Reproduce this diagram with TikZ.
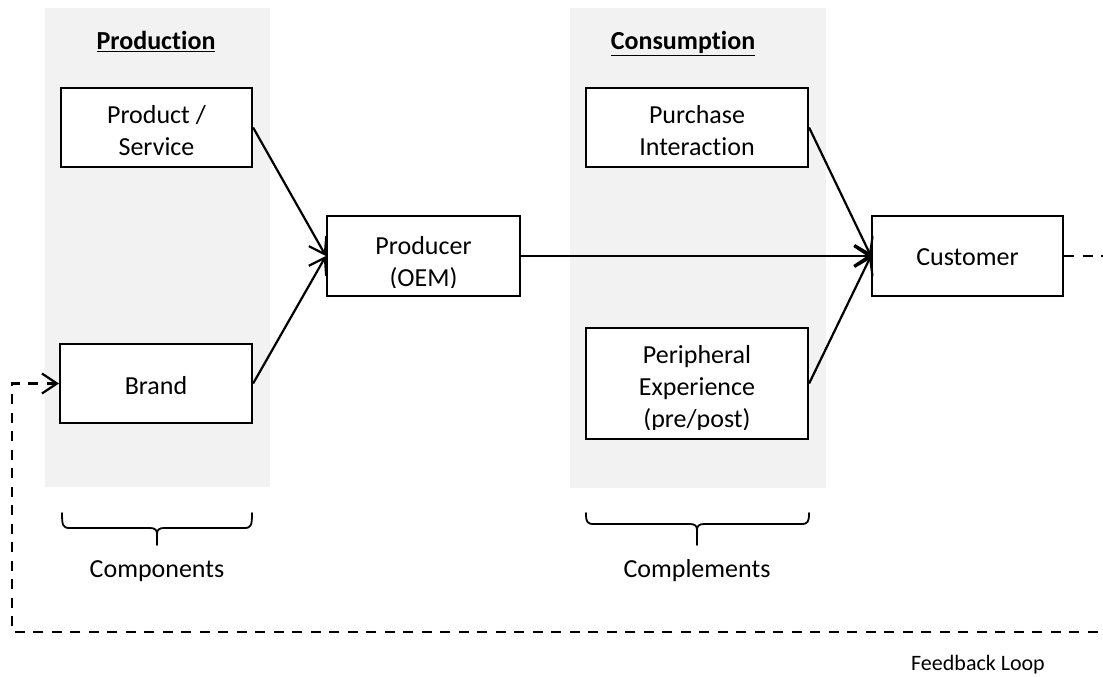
\documentclass[tikz,border=0pt]{standalone}
\usepackage{fontspec}
\setmainfont{Carlito}[RawFeature={-liga}]
\usetikzlibrary{arrows.meta}
\definecolor{panelgray}{HTML}{F2F2F2}
\tikzset{
  panel/.style={fill=panelgray, draw=none},
  box/.style={draw=black, line width=2.2pt, fill=white, inner sep=0pt},
  lbl/.style={font=\fontsize{26}{32}\selectfont, align=center, inner sep=0pt, anchor=base},
  hdr/.style={font=\fontsize{26}{32}\selectfont\bfseries, inner sep=0pt, anchor=base},
  tipv/.style={-{Straight Barb[length=15pt,width=20pt,line width=2.2pt]}},
  arr/.style={line width=2.2pt, tipv},
  fb/.style={line width=2.2pt, dash pattern=on 10pt off 8.5pt, tipv},
  brace/.style={line width=1.8pt, line cap=round, line join=round},
}
\begin{document}
\begin{tikzpicture}[x=1pt, y=-1pt]
\useasboundingbox (0,0) rectangle (1103,677);
\clip (0,0) rectangle (1103,677);

% shaded columns
\fill[panel] (45,8) rectangle (270,487);
\fill[panel] (570,8) rectangle (826,488);

% column headings
\node[hdr] (hprod) at (156,50) {\underline{Production}};
\node[hdr] (hcons) at (683,50) {\underline{Consumption}};

% boxes (the base anchor of a multi-line label sits on its last line)
\node[box, minimum width=191pt, minimum height=79pt] (ps) at (156.5,127.5) {};
\node[lbl] at (156.5,155) {Product /\\Service};

\node[box, minimum width=192pt, minimum height=79pt] (brand) at (156,383.5) {};
\node[lbl] at (156,394) {Brand};

\node[box, minimum width=193pt, minimum height=80pt] (prod) at (423.5,256) {};
\begin{scope}
  \clip ([yshift=-10pt]prod.north west) rectangle ([yshift=10pt]prod.south east);
  \node[lbl] at (423.5,286) {Producer\\(OEM)};
\end{scope}

\node[box, minimum width=222pt, minimum height=79pt] (pur) at (697,127.5) {};
\node[lbl] at (697,155) {Purchase\\Interaction};

\node[box, minimum width=222pt, minimum height=111pt] (peri) at (697,383.5) {};
\begin{scope}
  \clip ([yshift=-10pt]peri.north west) rectangle ([yshift=11pt]peri.south east);
  \node[lbl] at (697,427) {Peripheral\\Experience\\(pre/post)};
\end{scope}

\node[box, minimum width=191pt, minimum height=80pt] (cust) at (967.5,256) {};
\node[lbl] at (967.5,265) {Customer};

% flows
\draw[arr] (ps.east) -- (prod.west);
\draw[arr] (brand.east) -- (prod.west);
\draw[arr] (prod.east) -- (cust.west);
\draw[arr] (pur.east) -- (cust.west);
\draw[arr] (peri.east) -- (cust.west);

% feedback loop
\coordinate (fbR) at (1115,256);
\coordinate (fbL) at (12,632);
\draw[fb] (cust.east) -- (fbR) |- (fbL) |- (brand.west);
\node[font=\fontsize{22}{26}\selectfont, inner sep=0pt, anchor=base] (fbl) at (978,670) {Feedback Loop};

% braces
\draw[brace] (62,513) .. controls (62,526) and (63,528) .. (70,528) -- (150,528)
  .. controls (155,528) and (157,530) .. (157,534) -- (157,545);
\draw[brace] (157,534) .. controls (157,530) and (159,528) .. (164,528) -- (244,528)
  .. controls (251,528) and (252,526) .. (252,513);
\node[lbl] (comp) at (157,577) {Components};

\draw[brace] (586,513) .. controls (586,522) and (587,524) .. (594,524) -- (690,524)
  .. controls (695,524) and (697,526) .. (697,530) -- (697,545);
\draw[brace] (697,530) .. controls (697,526) and (699,524) .. (704,524) -- (801,524)
  .. controls (808,524) and (809,522) .. (809,513);
\node[lbl] (compl) at (697,577) {Complements};
\end{tikzpicture}
\end{document}
